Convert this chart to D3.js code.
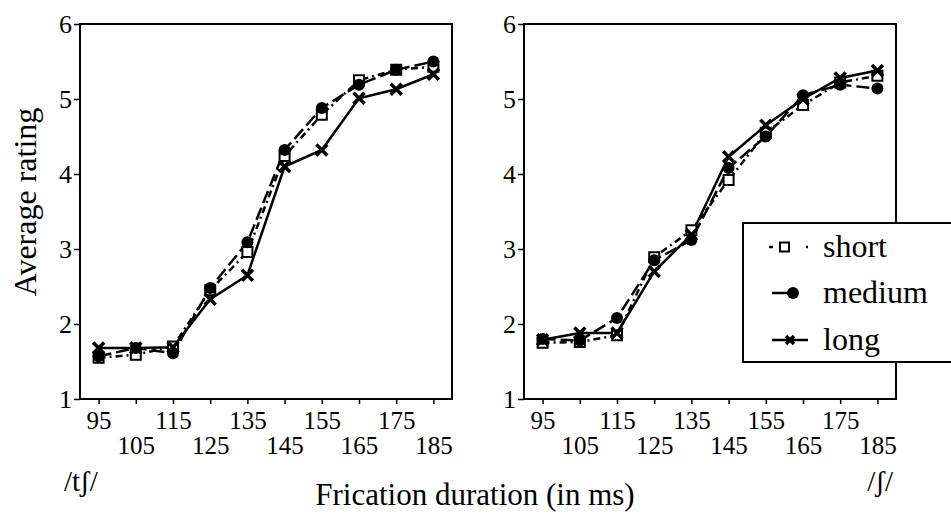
<!DOCTYPE html>
<html>
<head>
<meta charset="utf-8">
<script src="https://cdn.jsdelivr.net/npm/d3@7"></script>
<style>
  html, body { margin: 0; padding: 0; background: #fff; }
  svg { display: block; }
  text { font-family: "Liberation Serif", "Times New Roman", "DejaVu Serif", serif; fill: #000; }
</style>
</head>
<body>
<svg id="chart" width="951" height="528"></svg>
<script>
// ---- data ----
const durations = [95, 105, 115, 125, 135, 145, 155, 165, 175, 185];
const yTicks = [1, 2, 3, 4, 5, 6];
const seriesNames = ["short", "medium", "long"];

const leftShort  = [1.55, 1.59, 1.70, 2.45, 2.96, 4.24, 4.79, 5.25, 5.39, 5.43];
const leftMedium = [1.57, 1.68, 1.61, 2.48, 3.09, 4.32, 4.88, 5.19, 5.39, 5.50];
const leftLong   = [1.68, 1.68, 1.69, 2.33, 2.65, 4.10, 4.32, 5.01, 5.13, 5.33];

const rightShort  = [1.75, 1.76, 1.85, 2.89, 3.25, 3.92, 4.55, 4.92, 5.22, 5.31];
const rightMedium = [1.80, 1.78, 2.08, 2.85, 3.12, 4.08, 4.50, 5.05, 5.19, 5.14];
const rightLong   = [1.79, 1.88, 1.88, 2.70, 3.19, 4.23, 4.65, 5.00, 5.28, 5.38];

const yTitle = "Average rating";
const xTitle = "Frication duration (in ms)";
const leftEndLabel = "/t\u0283/";
const rightEndLabel = "/\u0283/";

// ---- styles ----
const dashes = { short: "7,4,2,4", medium: "13,5", long: null };

const svg = d3.select("#chart");

function drawPanel(x0, x1, series) {
  const x = d3.scaleLinear().domain([90, 190]).range([x0, x1]);
  const y = d3.scaleLinear().domain([1, 6]).range([399, 24]);
  const g = svg.append("g");

  // y axis
  const ya = g.append("g").attr("transform", `translate(${x0},0)`)
    .call(d3.axisLeft(y).tickValues(yTicks).tickSize(6).tickPadding(2).tickFormat(d3.format("d")));
  ya.select(".domain").remove();
  ya.selectAll("line").attr("stroke", "#000").attr("stroke-width", 1.5);
  ya.selectAll("text").attr("font-size", 26).attr("dy", "0.34em")
    .style("font-family", '"Liberation Serif", "Times New Roman", serif');

  // x axis
  const xa = g.append("g").attr("transform", `translate(0,399)`)
    .call(d3.axisBottom(x).tickValues(durations).tickSize(5).tickPadding(3).tickFormat(d3.format("d")));
  xa.select(".domain").remove();
  xa.selectAll("line").attr("stroke", "#000").attr("stroke-width", 1.5);
  xa.selectAll("text").attr("font-size", 25)
    .style("font-family", '"Liberation Serif", "Times New Roman", serif')
    .attr("dy", null)
    .attr("y", (d, i) => i % 2 === 0 ? 30 : 55);

  // frame
  g.append("rect").attr("x", x0).attr("y", 24).attr("width", x1 - x0).attr("height", 399 - 24)
    .attr("fill", "none").attr("stroke", "#000").attr("stroke-width", 2);

  const line = d3.line().x((d, i) => x(durations[i])).y(d => y(d));

  seriesNames.forEach(name => {
    g.append("path").datum(series[name]).attr("d", line)
      .attr("fill", "none").attr("stroke", "#000").attr("stroke-width", 2.5)
      .attr("stroke-dasharray", dashes[name]);
  });

  // markers
  g.selectAll(".sq").data(series.short).enter().append("rect")
    .attr("x", (d, i) => x(durations[i]) - 5).attr("y", d => y(d) - 5)
    .attr("width", 10).attr("height", 10)
    .attr("fill", "#fff").attr("stroke", "#000").attr("stroke-width", 2);
  g.selectAll(".ci").data(series.medium).enter().append("circle")
    .attr("cx", (d, i) => x(durations[i])).attr("cy", d => y(d)).attr("r", 6)
    .attr("fill", "#000");
  g.selectAll(".xx").data(series.long).enter().append("path")
    .attr("transform", (d, i) => `translate(${x(durations[i])},${y(d)})`)
    .attr("d", "M-5.5,-5.5L5.5,5.5M-5.5,5.5L5.5,-5.5")
    .attr("stroke", "#000").attr("stroke-width", 3.5).attr("fill", "none");
}

drawPanel(80, 452, { short: leftShort, medium: leftMedium, long: leftLong });
drawPanel(524, 896, { short: rightShort, medium: rightMedium, long: rightLong });

// titles
svg.append("text").attr("transform", "translate(36,202) rotate(-90)")
  .attr("text-anchor", "middle").attr("font-size", 32).text(yTitle);
svg.append("text").attr("x", 475).attr("y", 505)
  .attr("text-anchor", "middle").attr("font-size", 31).text(xTitle);
svg.append("text").attr("x", 64).attr("y", 491).attr("font-size", 29).text(leftEndLabel);
svg.append("text").attr("x", 893).attr("y", 491).attr("text-anchor", "end").attr("font-size", 29)
  .text(rightEndLabel);

// legend
const lg = svg.append("g");
lg.append("rect").attr("x", 743).attr("y", 223).attr("width", 220).attr("height", 139)
  .attr("fill", "#fff").attr("stroke", "#000").attr("stroke-width", 2);
const legendY = [247, 293, 340];
seriesNames.forEach((name, i) => {
  const cy = legendY[i];
  const row = lg.append("g");
  if (name === "short") {
    row.append("line").attr("x1", 769).attr("x2", 773).attr("y1", cy).attr("y2", cy)
      .attr("stroke", "#000").attr("stroke-width", 2.5);
    row.append("rect").attr("x", 780).attr("y", cy - 4.5).attr("width", 9).attr("height", 9)
      .attr("fill", "#fff").attr("stroke", "#000").attr("stroke-width", 2);
    row.append("line").attr("x1", 806).attr("x2", 808).attr("y1", cy).attr("y2", cy)
      .attr("stroke", "#000").attr("stroke-width", 2.5);
  } else if (name === "medium") {
    row.append("line").attr("x1", 772).attr("x2", 792).attr("y1", cy).attr("y2", cy)
      .attr("stroke", "#000").attr("stroke-width", 2.5);
    row.append("circle").attr("cx", 793).attr("cy", cy).attr("r", 6).attr("fill", "#000");
  } else {
    row.append("line").attr("x1", 772).attr("x2", 808).attr("y1", cy).attr("y2", cy)
      .attr("stroke", "#000").attr("stroke-width", 2.5);
    row.append("path").attr("transform", `translate(790,${cy})`)
      .attr("d", "M-4,-4L4,4M-4,4L4,-4").attr("stroke", "#000").attr("stroke-width", 3.5);
  }
  row.append("text").attr("x", 823).attr("y", cy + 10).attr("font-size", 32).text(name);
});
</script>
</body>
</html>
